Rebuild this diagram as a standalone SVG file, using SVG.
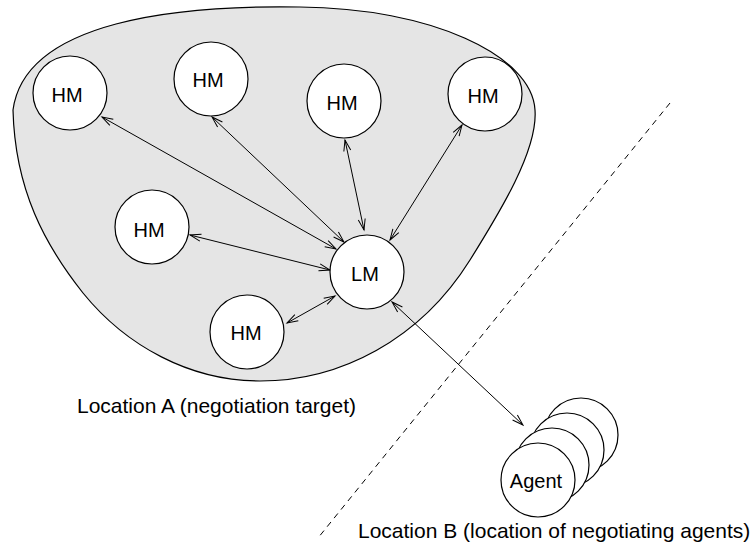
<svg xmlns="http://www.w3.org/2000/svg" width="750" height="555" viewBox="0 0 750 555">
  <style>
    .node { fill: #ffffff; stroke: #000000; stroke-width: 1.2; }
    .lbl { font-family: "Liberation Sans", Arial, sans-serif; font-size: 20px; fill: #000000; text-anchor: middle; }
    .cap { font-family: "Liberation Sans", Arial, sans-serif; font-size: 21px; fill: #000000; }
    .link { stroke: #000000; stroke-width: 1; fill: none; marker-start: url(#arr); marker-end: url(#arr); }
  </style>
  <defs>
    <marker id="arr" viewBox="-12 -5 14 10" refX="0" refY="0" markerWidth="14" markerHeight="10" markerUnits="userSpaceOnUse" orient="auto-start-reverse">
      <path d="M -11,-3.5 L 0,0 L -11,3.5" fill="none" stroke="#000000" stroke-width="1"/>
    </marker>
  </defs>

  <!-- Location A region -->
  <g id="locationA">
    <path d="M 260,381 C 340,381 420,340 470,260 C 500,212 538,150 535,110 C 532,55 430,8 300,7 C 180,5 25,20 13,110 C 15,190 45,245 83,293 C 126,346 190,381 260,381 Z" fill="#e5e5e5" stroke="#000000" stroke-width="1.2"/>
    <text class="cap" x="77" y="413">Location A (negotiation target)</text>
  </g>

  <!-- boundary between locations -->
  <g id="boundary">
    <line x1="670" y1="103" x2="318" y2="538" stroke="#000000" stroke-width="1" stroke-dasharray="6,5"/>
    <text class="cap" x="358" y="538">Location B (location of negotiating agents)</text>
  </g>

  <!-- connectors -->
  <g id="connectors">
    <line class="link" x1="102" y1="117" x2="336" y2="249"/>
    <line class="link" x1="212" y1="117" x2="344" y2="242"/>
    <line class="link" x1="345" y1="140" x2="364" y2="230"/>
    <line class="link" x1="462" y1="125" x2="390" y2="240"/>
    <line class="link" x1="190" y1="235" x2="330" y2="270"/>
    <line class="link" x1="287" y1="323" x2="335" y2="296"/>
    <line class="link" x1="392" y1="302" x2="523" y2="425"/>
  </g>

  <g id="hm1"><circle class="node" cx="70" cy="93" r="37"/><text class="lbl" x="67" y="102">HM</text></g>
  <g id="hm2"><circle class="node" cx="211" cy="79" r="37"/><text class="lbl" x="208" y="87">HM</text></g>
  <g id="hm3"><circle class="node" cx="344" cy="101" r="37"/><text class="lbl" x="342" y="110">HM</text></g>
  <g id="hm4"><circle class="node" cx="485" cy="94" r="37"/><text class="lbl" x="483" y="103">HM</text></g>
  <g id="hm5"><circle class="node" cx="152" cy="227" r="37"/><text class="lbl" x="149" y="237">HM</text></g>
  <g id="hm6"><circle class="node" cx="247" cy="332" r="37"/><text class="lbl" x="246" y="340">HM</text></g>
  <g id="lm"><circle class="node" cx="367" cy="272" r="37"/><text class="lbl" x="365" y="281">LM</text></g>

  <!-- stack of agents -->
  <g id="agents">
    <circle class="node" cx="581" cy="435" r="37"/>
    <circle class="node" cx="567" cy="450" r="37"/>
    <circle class="node" cx="552" cy="465" r="37"/>
    <circle class="node" cx="538" cy="480" r="37"/>
    <text class="lbl" x="536" y="488">Agent</text>
  </g>
</svg>
